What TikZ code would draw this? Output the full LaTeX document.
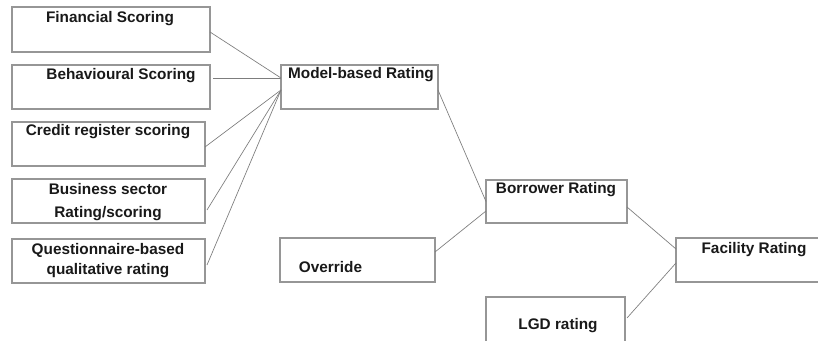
\documentclass[tikz,border=0pt]{standalone}
\usepackage{fontspec}
\setmainfont{Liberation Sans}
\usepackage{xcolor}
\usepackage{tikz}
\definecolor{boxgray}{RGB}{150,150,150}
\definecolor{linegray}{RGB}{125,125,125}
\definecolor{textdark}{RGB}{25,25,25}

\begin{document}
\begin{tikzpicture}[x=0.75pt, y=-0.75pt,
  box/.style={rectangle, draw=boxgray, line width=0.9pt, inner sep=0pt, outer sep=0pt, minimum height=33pt},
  txt/.style={text=textdark, font=\fontsize{11.5}{15}\selectfont\bfseries, align=center, inner sep=0pt},
  link/.style={draw=linegray, line width=0.5pt}]

\clip (0,0) rectangle (818,341);
\fill[white] (0,0) rectangle (818,341);

% input scorings
\node[box, minimum width=148.5pt, minimum height=33.75pt] (fin) at (111,29.5) {};
\node[box, minimum width=148.5pt] (beh) at (111,87) {};
\node[box, minimum width=144.75pt] (cred) at (108.5,144) {};
\node[box, minimum width=144.75pt] (bus) at (108.5,201) {};
\node[box, minimum width=144.75pt] (que) at (108.5,261) {};

\node[txt] (finT) at (110,19) {Financial Scoring};
\node[txt] (behT) at (121,76) {Behavioural Scoring};
\node[txt] (credT) at (108,132) {Credit register scoring};
\node[txt, font=\fontsize{11.5}{17}\selectfont\bfseries] (busT) at (108,202) {Business sector\\Rating/scoring};
\node[txt] (queT) at (108,261) {Questionnaire-based\\qualitative rating};

% ratings
\node[box, minimum width=117.75pt] (mod) at (359.5,87) {};
\node[box, minimum width=105.75pt, minimum height=32.25pt] (bor) at (556.5,201.5) {};
\node[box, minimum width=116.25pt] (ovr) at (357.5,260) {};
\node[box, minimum width=109.5pt] (fac) at (749,260) {};
\node[box, minimum width=104.25pt, minimum height=34.5pt] (lgd) at (555.5,320) {};

\node[txt] (modT) at (361,75) {Model-based Rating};
\node[txt] (borT) at (556,190) {Borrower Rating};
\node[txt] (ovrT) at (330.5,267) {Override};
\node[txt] (facT) at (754,250) {Facility Rating};
\node[txt] (lgdT) at (558,326) {LGD rating};

% connectors
\coordinate (modA) at ([shift={(0,-9)}]mod.west);
\coordinate (modB) at ([shift={(0,3)}]mod.west);

\draw[link] ([shift={(0,2.5)}]fin.east) -- (modA);
\draw[link] ([shift={(3,-9)}]beh.east) -- (modA);
\draw[link] ([shift={(0,3)}]cred.east) -- (modB);
\draw[link] ([shift={(2,9)}]bus.east) -- (modB);
\draw[link] ([shift={(2,4)}]que.east) -- (modB);

\draw[link] ([shift={(0,3)}]mod.east) -- (bor.west);
\draw[link] ([shift={(0,-8)}]ovr.east) -- ([shift={(0,9.5)}]bor.west);
\draw[link] ([shift={(0,5.5)}]bor.east) -- ([shift={(0,-11)}]fac.west);
\draw[link] ([shift={(2,-2)}]lgd.east) -- ([shift={(0,3)}]fac.west);
\end{tikzpicture}
\end{document}
